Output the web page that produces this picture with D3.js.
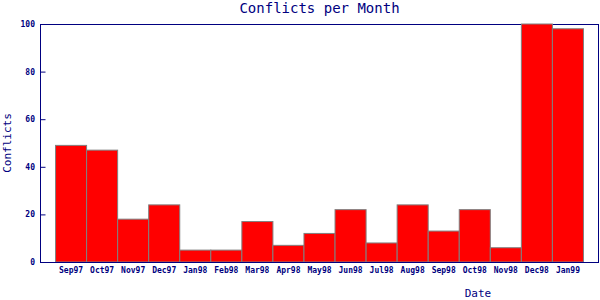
<!DOCTYPE html>
<html>
<head>
<meta charset="utf-8">
<script src="https://cdn.jsdelivr.net/npm/d3@7"></script>
<style>
  body { margin: 0; background: #fff; }
  svg { display: block; }
</style>
</head>
<body>
<svg width="600" height="300"></svg>
<script>
var months = ["Sep97", "Oct97", "Nov97", "Dec97", "Jan98", "Feb98", "Mar98", "Apr98", "May98",
  "Jun98", "Jul98", "Aug98", "Sep98", "Oct98", "Nov98", "Dec98", "Jan99"];
var conflicts = [49, 47, 18, 24, 5, 5, 17, 7, 12, 22, 8, 24, 13, 22, 6, 100, 98];
var yTicks = [0, 20, 40, 60, 80, 100];

var navy = "#000080";
var font = "'DejaVu Sans Mono', monospace";

var svg = d3.select("svg"),
    margin = { top: 24, right: 1, bottom: 38, left: 40 },
    width = +svg.attr("width") - margin.left - margin.right,
    height = +svg.attr("height") - margin.top - margin.bottom;

var x = d3.scaleBand().domain(months).range([0, width]).paddingInner(0).paddingOuter(0.5);
var y = d3.scaleLinear().domain([0, 100]).range([height, 0]);

var g = svg.append("g").attr("transform", "translate(" + margin.left + "," + margin.top + ")");

// frame
g.append("rect").attr("x", 0.5).attr("y", 0.5).attr("width", width - 1).attr("height", height)
  .attr("fill", "none").attr("stroke", navy).attr("stroke-width", 1);

g.selectAll("rect.bar").data(months).enter().append("rect")
  .attr("class", "bar")
  .attr("x", function (d) { return x(d); })
  .attr("y", function (d, i) { return y(conflicts[i]); })
  .attr("width", x.bandwidth())
  .attr("height", function (d, i) { return height - y(conflicts[i]); })
  .attr("fill", "#ff0000")
  .attr("stroke", "#808080")
  .attr("stroke-width", 1);

// bottom axis line over the bars
g.append("line").attr("x1", 0).attr("x2", width).attr("y1", height + 0.5).attr("y2", height + 0.5)
  .attr("stroke", navy);

var yAxis = g.append("g")
  .call(d3.axisRight(y).tickValues(yTicks).tickSize(5).tickFormat(d3.format("d")));
yAxis.select(".domain").remove();
yAxis.selectAll("line").attr("stroke", navy).attr("transform", "translate(0.5,0)");
yAxis.selectAll("text").attr("x", -5).attr("text-anchor", "end")
  .attr("fill", navy).style("font-family", font).style("font-size", "8px").style("font-weight", "bold");

var xAxis = g.append("g").attr("transform", "translate(0," + height + ")")
  .call(d3.axisBottom(x).tickSize(0).tickPadding(5));
xAxis.select(".domain").remove();
xAxis.selectAll("text").attr("fill", navy)
  .style("font-family", font).style("font-size", "8px").style("font-weight", "bold");

svg.append("text").attr("x", margin.left + width / 2).attr("y", 13)
  .attr("text-anchor", "middle").attr("fill", navy)
  .style("font-family", font).style("font-size", "14px")
  .text("Conflicts per Month");

svg.append("text").attr("x", 478).attr("y", 297)
  .attr("text-anchor", "middle").attr("fill", navy)
  .style("font-family", font).style("font-size", "11px")
  .text("Date");

svg.append("text").attr("transform", "translate(11," + (margin.top + height / 2) + ") rotate(-90)")
  .attr("text-anchor", "middle").attr("fill", navy)
  .style("font-family", font).style("font-size", "11px")
  .text("Conflicts");
</script>
</body>
</html>
